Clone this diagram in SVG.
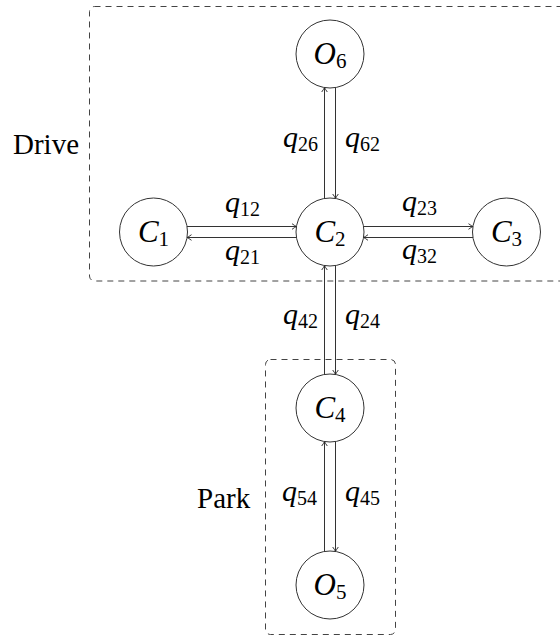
<svg xmlns="http://www.w3.org/2000/svg" width="560" height="639" viewBox="0 0 560 639">
<defs>
<marker id="tip" markerUnits="userSpaceOnUse" viewBox="-6 -4 8 8" refX="0" refY="0" markerWidth="8" markerHeight="8" orient="auto">
<path d="M -4.5 -2.8 Q -1.5 -0.6 0 0 Q -1.5 0.6 -4.5 2.8" fill="none" stroke="#222" stroke-width="0.9"/>
</marker>
</defs>
<g fill="none" stroke="#444" stroke-width="1" stroke-dasharray="6 5">
<rect x="89.5" y="6.5" width="490" height="274.5" rx="5"/>
<rect x="265.5" y="359.5" width="130" height="275" rx="5"/>
</g>
<g font-family="Liberation Serif" font-size="29">
<text x="13" y="154">Drive</text>
<text x="197" y="508">Park</text>
</g>
<g id="connectors" stroke="#333" stroke-width="1" fill="none" marker-end="url(#tip)">
<line x1="187" y1="226.5" x2="296.5" y2="226.5"/>
<line x1="296.5" y1="237.5" x2="187" y2="237.5"/>
<line x1="363.5" y1="226.5" x2="473" y2="226.5"/>
<line x1="473" y1="237.5" x2="363.5" y2="237.5"/>
<line x1="324.5" y1="198.5" x2="324.5" y2="87.5"/>
<line x1="335.5" y1="87.5" x2="335.5" y2="198.5"/>
<line x1="335.5" y1="265.5" x2="335.5" y2="374.5"/>
<line x1="324.5" y1="374.5" x2="324.5" y2="265.5"/>
<line x1="335.5" y1="441.5" x2="335.5" y2="551.5"/>
<line x1="324.5" y1="551.5" x2="324.5" y2="441.5"/>
</g>
<g font-family="Liberation Serif" font-size="30" font-style="italic" fill="#000">
<text x="225" y="212">q<tspan font-style="normal" font-size="20" dy="4">12</tspan></text>
<text x="225" y="260">q<tspan font-style="normal" font-size="20" dy="4">21</tspan></text>
<text x="402" y="211">q<tspan font-style="normal" font-size="20" dy="4">23</tspan></text>
<text x="402" y="259">q<tspan font-style="normal" font-size="20" dy="4">32</tspan></text>
<text x="283" y="147">q<tspan font-style="normal" font-size="20" dy="4">26</tspan></text>
<text x="345" y="147">q<tspan font-style="normal" font-size="20" dy="4">62</tspan></text>
<text x="283" y="324">q<tspan font-style="normal" font-size="20" dy="4">42</tspan></text>
<text x="345" y="324">q<tspan font-style="normal" font-size="20" dy="4">24</tspan></text>
<text x="282" y="501">q<tspan font-style="normal" font-size="20" dy="4">54</tspan></text>
<text x="345" y="501">q<tspan font-style="normal" font-size="20" dy="4">45</tspan></text>
</g>
<g font-family="Liberation Serif" font-size="31" font-style="italic" text-anchor="middle">
<g id="O6"><circle cx="330" cy="54" r="34" fill="#fff" stroke="#333"/><text x="330" y="64">O<tspan font-style="normal" font-size="21" dy="4">6</tspan></text></g>
<g id="C1"><circle cx="153.5" cy="232" r="34" fill="#fff" stroke="#333"/><text x="153.5" y="242">C<tspan font-style="normal" font-size="21" dy="4">1</tspan></text></g>
<g id="C2"><circle cx="330" cy="232" r="34" fill="#fff" stroke="#333"/><text x="330" y="242">C<tspan font-style="normal" font-size="21" dy="4">2</tspan></text></g>
<g id="C3"><circle cx="506.5" cy="232" r="34" fill="#fff" stroke="#333"/><text x="506.5" y="242">C<tspan font-style="normal" font-size="21" dy="4">3</tspan></text></g>
<g id="C4"><circle cx="330" cy="408" r="34" fill="#fff" stroke="#333"/><text x="330" y="418">C<tspan font-style="normal" font-size="21" dy="4">4</tspan></text></g>
<g id="O5"><circle cx="330" cy="585" r="34" fill="#fff" stroke="#333"/><text x="330" y="595">O<tspan font-style="normal" font-size="21" dy="4">5</tspan></text></g>
</g>
</svg>
